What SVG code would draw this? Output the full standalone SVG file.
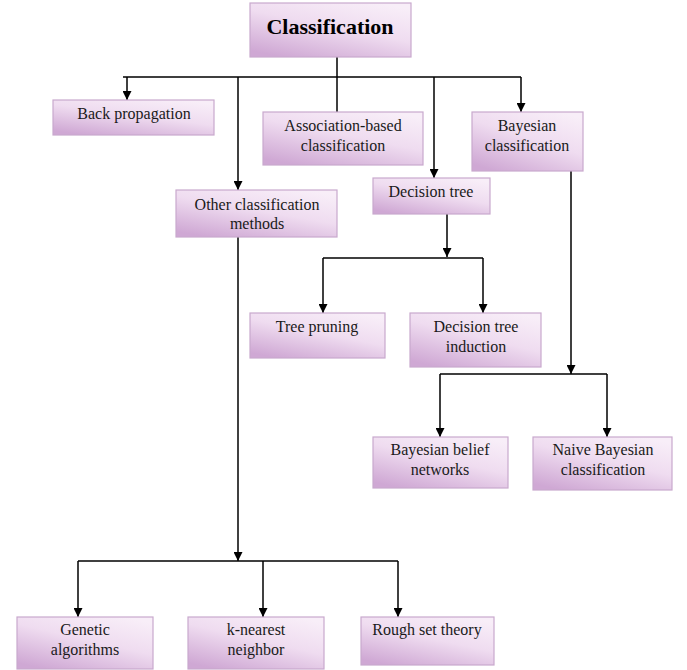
<svg xmlns="http://www.w3.org/2000/svg" width="687" height="670" viewBox="0 0 687 670">
<defs>
<linearGradient id="g" x1="0.8" y1="0" x2="0.2" y2="1">
<stop offset="0" stop-color="#f8eef8"/>
<stop offset="0.45" stop-color="#efdcf0"/>
<stop offset="1" stop-color="#cfa8d4"/>
</linearGradient>
<marker id="ah" viewBox="0 0 10 10" refX="10" refY="5" markerWidth="9" markerHeight="9" markerUnits="userSpaceOnUse" orient="auto">
<path d="M0,0 L10,5 L0,10 Z" fill="#000"/>
</marker>
</defs>
<style>
.box{fill:url(#g);stroke:#c9a9cd;stroke-width:1.2}
text{font-family:'Liberation Serif','Times New Roman',serif;font-size:16px;fill:#1a1a1a;text-anchor:middle}
.big{font-size:22px;font-weight:bold;fill:#000}
.c{fill:none;stroke:#000;stroke-width:1.5}
.a{fill:none;stroke:#000;stroke-width:1.5;marker-end:url(#ah)}
</style>
<rect width="687" height="670" fill="#fff"/>
<g id="connectors">
<path class="c" d="M337,57 V77 M123,77 H521"/>
<path class="a" d="M127,77 V100"/>
<path class="c" d="M337,77 V112"/>
<path class="a" d="M238,77 V190"/>
<path class="a" d="M434,77 V178"/>
<path class="a" d="M521,77 V112"/>
<path class="a" d="M447,214 V257"/>
<path class="c" d="M323,258 H483"/>
<path class="a" d="M323,258 V313"/>
<path class="a" d="M483,258 V313"/>
<path class="a" d="M571,171 V374"/>
<path class="c" d="M440,374 H607"/>
<path class="a" d="M440,374 V437"/>
<path class="a" d="M607,374 V437"/>
<path class="a" d="M238,237 V561"/>
<path class="c" d="M78,561 H398"/>
<path class="a" d="M78,561 V617"/>
<path class="a" d="M263,561 V617"/>
<path class="a" d="M398,561 V617"/>
</g>
<g id="classification"><rect class="box" x="250" y="3" width="161" height="54"/><text class="big" x="330" y="34">Classification</text></g>
<g id="back-propagation"><rect class="box" x="53" y="100" width="161" height="35"/><text x="134" y="119">Back propagation</text></g>
<g id="association"><rect class="box" x="263" y="112" width="160" height="53"/><text x="343" y="131">Association-based</text><text x="343" y="151">classification</text></g>
<g id="bayesian"><rect class="box" x="472" y="112" width="111" height="59"/><text x="527" y="131">Bayesian</text><text x="527" y="151">classification</text></g>
<g id="other"><rect class="box" x="176" y="190" width="161" height="47"/><text x="257" y="210">Other classification</text><text x="257" y="229">methods</text></g>
<g id="decision-tree"><rect class="box" x="373" y="178" width="117" height="36"/><text x="431" y="197">Decision tree</text></g>
<g id="tree-pruning"><rect class="box" x="250" y="313" width="135" height="45"/><text x="317" y="332">Tree pruning</text></g>
<g id="dt-induction"><rect class="box" x="410" y="313" width="131" height="54"/><text x="476" y="332">Decision tree</text><text x="476" y="352">induction</text></g>
<g id="belief"><rect class="box" x="373" y="437" width="135" height="51"/><text x="440" y="455">Bayesian belief</text><text x="440" y="475">networks</text></g>
<g id="naive"><rect class="box" x="533" y="437" width="139" height="53"/><text x="603" y="455">Naive Bayesian</text><text x="603" y="475">classification</text></g>
<g id="genetic"><rect class="box" x="17" y="617" width="136" height="52"/><text x="85" y="635">Genetic</text><text x="85" y="655">algorithms</text></g>
<g id="knn"><rect class="box" x="188" y="617" width="136" height="52"/><text x="256" y="635">k-nearest</text><text x="256" y="655">neighbor</text></g>
<g id="rough"><rect class="box" x="361" y="617" width="133" height="48"/><text x="427" y="635">Rough set theory</text></g>
</svg>
